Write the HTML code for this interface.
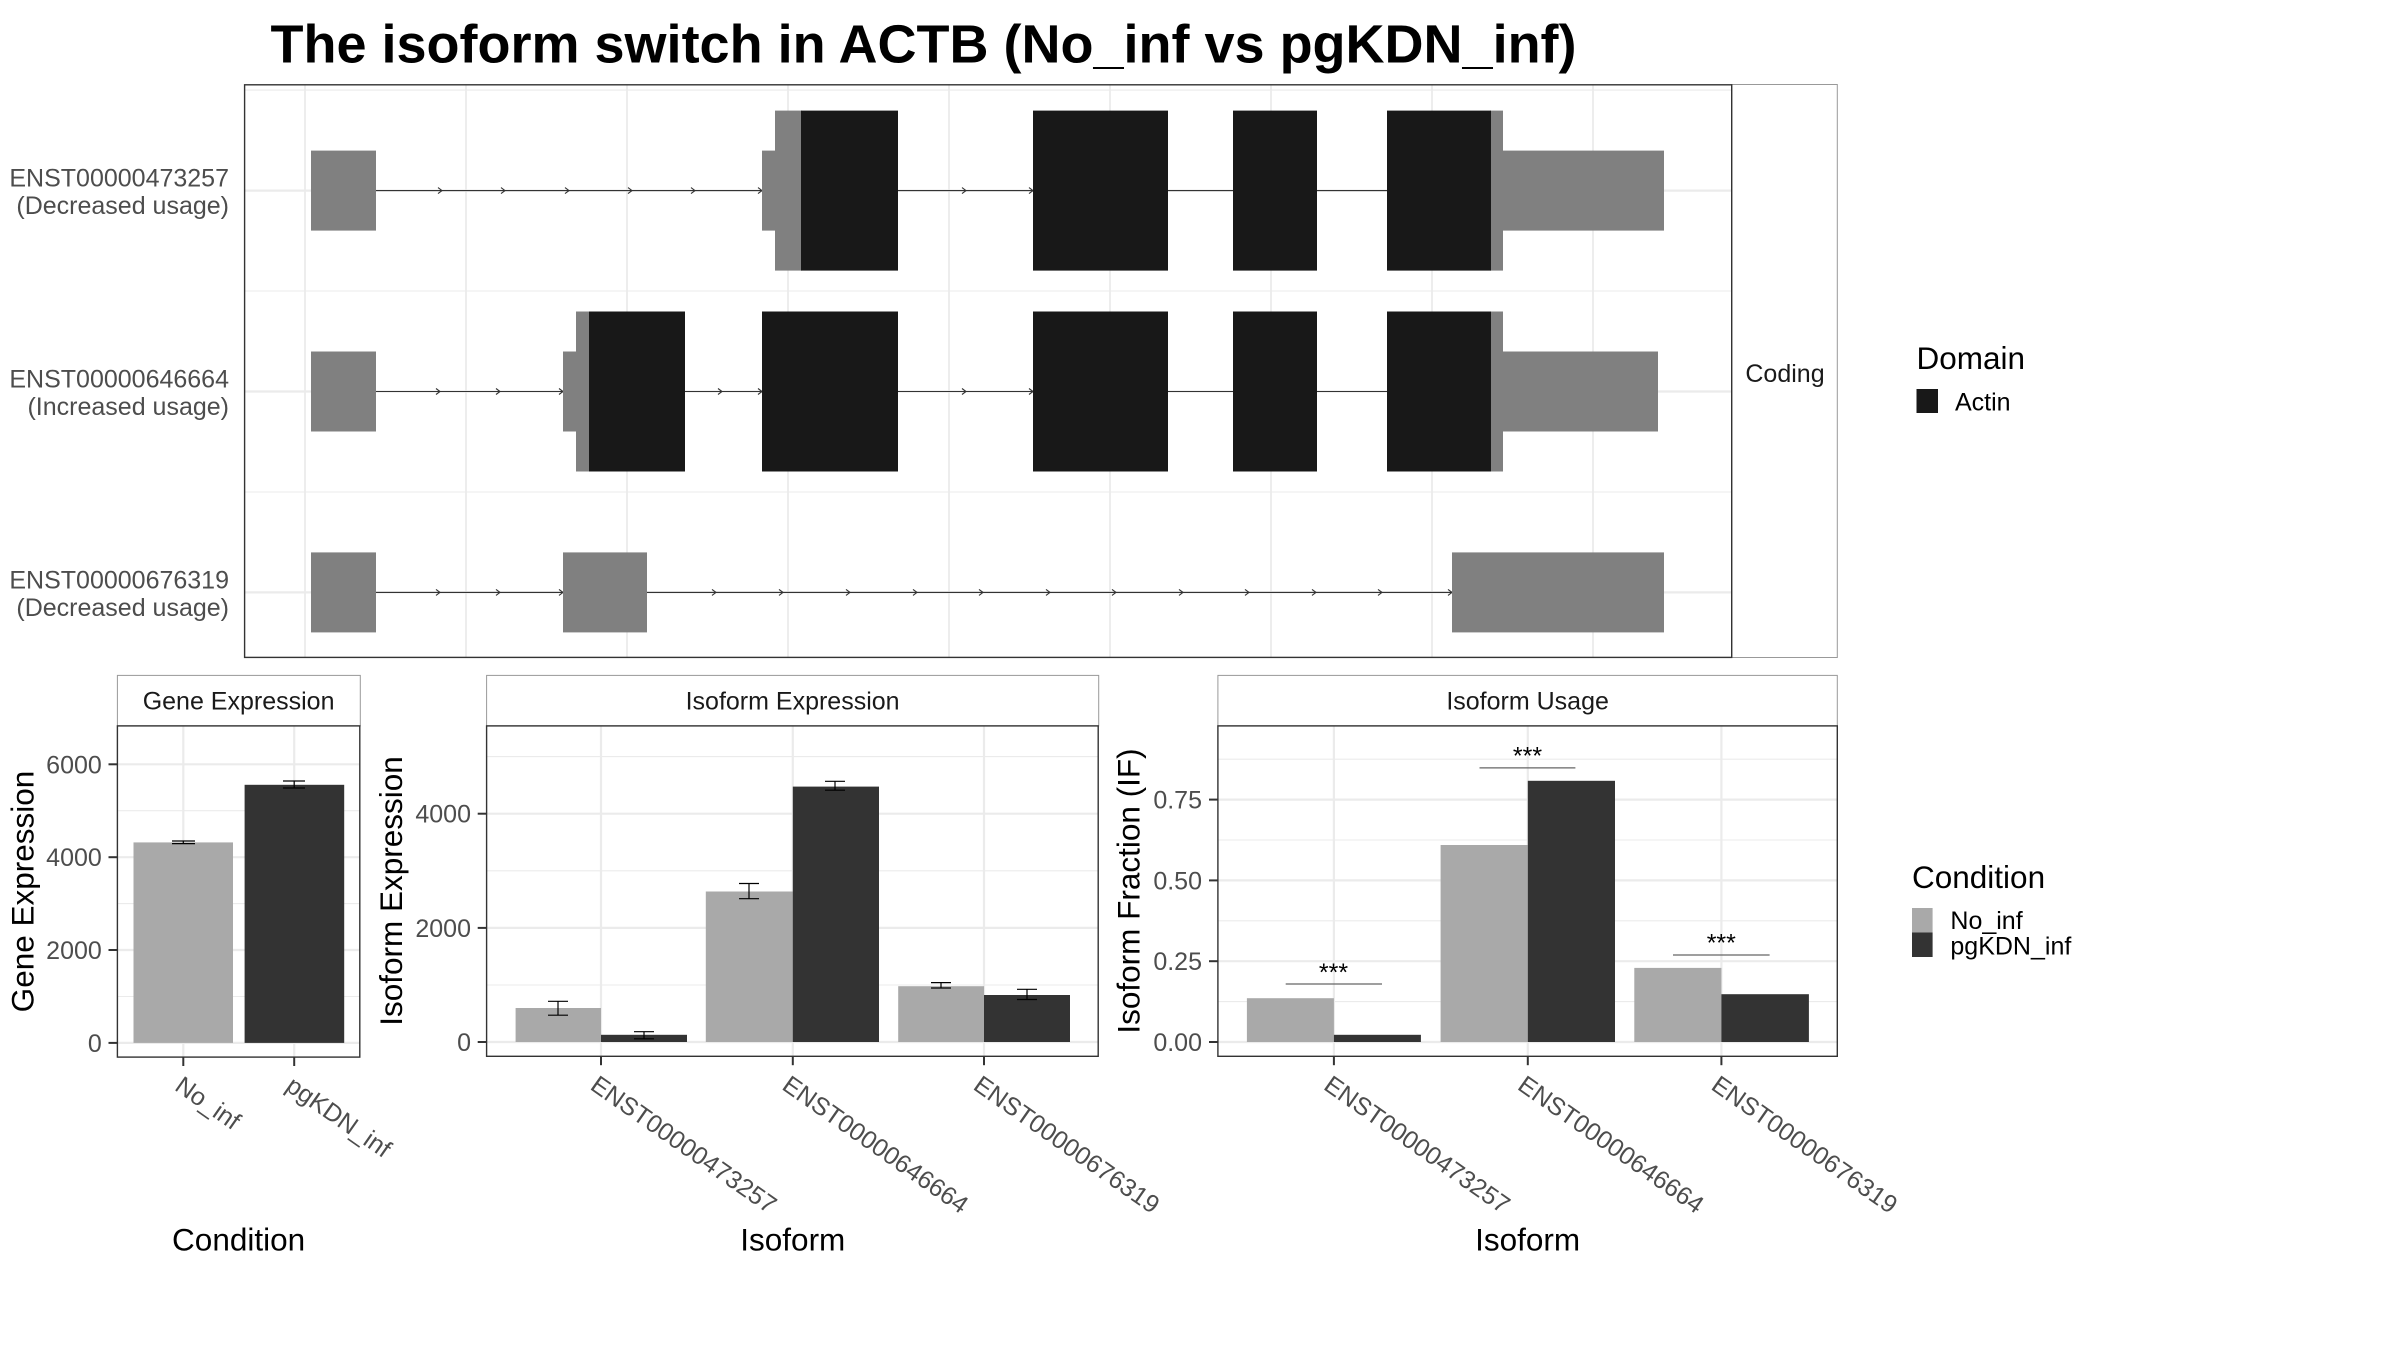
<!DOCTYPE html>
<html><head><meta charset="utf-8"><style>
html,body{margin:0;padding:0;background:#fff;}
svg{display:block;}
text{font-family:"Liberation Sans",Arial,sans-serif;}
</style></head><body>
<svg width="2400" height="1350" viewBox="0 0 2400 1350" xmlns="http://www.w3.org/2000/svg">
<rect width="2400" height="1350" fill="#fff"/>
<!-- Title -->
<text x="270.5" y="62.5" font-size="54" font-weight="bold" fill="#000">The isoform switch in ACTB (No_inf vs pgKDN_inf)</text>

<!-- ===== TOP PANEL ===== -->
<defs>
<clipPath id="ctop"><rect x="244.6" y="84.8" width="1487.1" height="572.6"/></clipPath>
</defs>
<g clip-path="url(#ctop)">
<g stroke="#ebebeb" stroke-width="1.1">
<line x1="244" y1="90.1" x2="1732" y2="90.1"/>
<line x1="244" y1="291" x2="1732" y2="291"/>
<line x1="244" y1="492" x2="1732" y2="492"/>
</g>
<g stroke="#ebebeb" stroke-width="2.2">
<line x1="244" y1="190.6" x2="1732" y2="190.6"/>
<line x1="244" y1="391.5" x2="1732" y2="391.5"/>
<line x1="244" y1="592.4" x2="1732" y2="592.4"/>
</g>
<g stroke="#ebebeb" stroke-width="1.8">
<line x1="305" y1="84" x2="305" y2="658"/>
<line x1="466" y1="84" x2="466" y2="658"/>
<line x1="627" y1="84" x2="627" y2="658"/>
<line x1="788" y1="84" x2="788" y2="658"/>
<line x1="949" y1="84" x2="949" y2="658"/>
<line x1="1110" y1="84" x2="1110" y2="658"/>
<line x1="1271" y1="84" x2="1271" y2="658"/>
<line x1="1432" y1="84" x2="1432" y2="658"/>
<line x1="1593" y1="84" x2="1593" y2="658"/>
</g>
</g>
<!-- intron lines -->
<g stroke="#333" stroke-width="1.1">
<line x1="376" y1="190.6" x2="1503" y2="190.6"/>
<line x1="376" y1="391.5" x2="1503" y2="391.5"/>
<line x1="376" y1="592.4" x2="1452" y2="592.4"/>
</g>
<!-- arrows -->
<g stroke="#333" stroke-width="1.1" fill="none">
<g transform="translate(0,190.6)">
<polyline points="438,-3 442,0 438,3"/><polyline points="501,-3 505,0 501,3"/><polyline points="565,-3 569,0 565,3"/><polyline points="628,-3 632,0 628,3"/><polyline points="691,-3 695,0 691,3"/><polyline points="758,-3 762,0 758,3"/><polyline points="962,-3 966,0 962,3"/><polyline points="1029,-3 1033,0 1029,3"/>
</g>
<g transform="translate(0,391.5)">
<polyline points="436,-3 440,0 436,3"/><polyline points="496,-3 500,0 496,3"/><polyline points="559,-3 563,0 559,3"/><polyline points="718,-3 722,0 718,3"/><polyline points="758,-3 762,0 758,3"/><polyline points="962,-3 966,0 962,3"/><polyline points="1029,-3 1033,0 1029,3"/>
</g>
<g transform="translate(0,592.4)">
<polyline points="436,-3 440,0 436,3"/><polyline points="496,-3 500,0 496,3"/><polyline points="559,-3 563,0 559,3"/>
<polyline points="712,-3 716,0 712,3"/><polyline points="779,-3 783,0 779,3"/><polyline points="846,-3 850,0 846,3"/><polyline points="913,-3 917,0 913,3"/><polyline points="979,-3 983,0 979,3"/><polyline points="1046,-3 1050,0 1046,3"/><polyline points="1112,-3 1116,0 1112,3"/><polyline points="1179,-3 1183,0 1179,3"/><polyline points="1245,-3 1249,0 1245,3"/><polyline points="1312,-3 1316,0 1312,3"/><polyline points="1378,-3 1382,0 1378,3"/><polyline points="1448,-3 1452,0 1448,3"/>
</g>
</g>
<!-- exons row 1 -->
<g fill="#808080">
<rect x="311" y="150.6" width="65" height="80"/>
<rect x="762" y="150.6" width="14" height="80"/>
<rect x="775" y="110.6" width="27" height="160"/>
<rect x="1490" y="110.6" width="13" height="160"/>
<rect x="1502" y="150.6" width="162" height="80"/>
</g>
<g fill="#181818">
<rect x="801" y="110.6" width="97" height="160"/>
<rect x="1033" y="110.6" width="135" height="160"/>
<rect x="1233" y="110.6" width="84" height="160"/>
<rect x="1387" y="110.6" width="104" height="160"/>
</g>
<!-- exons row 2 -->
<g fill="#808080">
<rect x="311" y="351.5" width="65" height="80"/>
<rect x="563" y="351.5" width="14" height="80"/>
<rect x="576" y="311.5" width="14" height="160"/>
<rect x="1490" y="311.5" width="13" height="160"/>
<rect x="1502" y="351.5" width="156" height="80"/>
</g>
<g fill="#181818">
<rect x="589" y="311.5" width="96" height="160"/>
<rect x="762" y="311.5" width="136" height="160"/>
<rect x="1033" y="311.5" width="135" height="160"/>
<rect x="1233" y="311.5" width="84" height="160"/>
<rect x="1387" y="311.5" width="104" height="160"/>
</g>
<!-- exons row 3 -->
<g fill="#808080">
<rect x="311" y="552.4" width="65" height="80"/>
<rect x="563" y="552.4" width="84" height="80"/>
<rect x="1452" y="552.4" width="212" height="80"/>
</g>
<!-- strip -->
<rect x="1731.7" y="84.5" width="105.6" height="573" fill="#fff" stroke="#999" stroke-width="1"/>
<rect x="244.6" y="84.8" width="1487.1" height="572.6" fill="none" stroke="#333" stroke-width="1.4"/>
<text x="1785" y="382" font-size="25" fill="#1a1a1a" text-anchor="middle">Coding</text>
<!-- y labels -->
<g font-size="25" fill="#4d4d4d" text-anchor="end">
<text x="229" y="186.6">ENST00000473257</text>
<text x="229" y="214.1">(Decreased usage)</text>
<text x="229" y="387.5">ENST00000646664</text>
<text x="229" y="415">(Increased usage)</text>
<text x="229" y="588.4">ENST00000676319</text>
<text x="229" y="615.9">(Decreased usage)</text>
</g>
<!-- Domain legend -->
<text x="1916.5" y="369" font-size="31.5" fill="#000">Domain</text>
<rect x="1916.5" y="389" width="21.5" height="24" fill="#181818"/>
<text x="1955" y="410.7" font-size="25" fill="#000">Actin</text>

<!-- ===== PANEL A: Gene Expression ===== -->
<rect x="117.4" y="675.4" width="242.9" height="50.5" fill="#fff" stroke="#999" stroke-width="1"/>
<text x="238.6" y="709.4" font-size="25" fill="#1a1a1a" text-anchor="middle">Gene Expression</text>
<g stroke="#ebebeb">
<g stroke-width="1.1">
<line x1="117" y1="996.5" x2="360" y2="996.5"/>
<line x1="117" y1="903.6" x2="360" y2="903.6"/>
<line x1="117" y1="810.7" x2="360" y2="810.7"/>
</g>
<g stroke-width="2.2">
<line x1="117" y1="1042.9" x2="360" y2="1042.9"/>
<line x1="117" y1="950" x2="360" y2="950"/>
<line x1="117" y1="857.2" x2="360" y2="857.2"/>
<line x1="117" y1="764.3" x2="360" y2="764.3"/>
<line x1="183.3" y1="726" x2="183.3" y2="1057"/>
<line x1="294.2" y1="726" x2="294.2" y2="1057"/>
</g>
</g>
<rect x="133.5" y="842.4" width="99.5" height="200.5" fill="#a9a9a9"/>
<rect x="244.6" y="784.8" width="99.6" height="258.1" fill="#333"/>
<g stroke="#000" stroke-width="1.2" fill="none">
<path d="M172,841 H195 M183.3,841 V843.6 M172,843.6 H195"/>
<path d="M283,781 H305 M294.2,781 V788 M283,788 H305"/>
</g>
<rect x="117.4" y="725.9" width="242.4" height="331.2" fill="none" stroke="#333" stroke-width="1.4"/>
<g stroke="#333" stroke-width="2">
<line x1="108.5" y1="1042.9" x2="117.4" y2="1042.9"/>
<line x1="108.5" y1="950" x2="117.4" y2="950"/>
<line x1="108.5" y1="857.2" x2="117.4" y2="857.2"/>
<line x1="108.5" y1="764.3" x2="117.4" y2="764.3"/>
<line x1="183.3" y1="1057.1" x2="183.3" y2="1066"/>
<line x1="294.2" y1="1057.1" x2="294.2" y2="1066"/>
</g>
<g font-size="25" fill="#4d4d4d" text-anchor="end">
<text x="101.8" y="1051.9">0</text>
<text x="101.8" y="959">2000</text>
<text x="101.8" y="866.2">4000</text>
<text x="101.8" y="773.3">6000</text>
</g>
<g font-size="25" fill="#4d4d4d">
<text transform="translate(173.5,1089.3) rotate(35)">No_inf</text>
<text transform="translate(284.4,1089.3) rotate(35)">pgKDN_inf</text>
</g>
<text transform="translate(33.5,891.5) rotate(-90)" font-size="31.5" fill="#000" text-anchor="middle">Gene Expression</text>
<text x="238.6" y="1250.4" font-size="31.5" fill="#000" text-anchor="middle">Condition</text>

<!-- ===== PANEL B: Isoform Expression ===== -->
<rect x="486.6" y="675.4" width="612.1" height="50.5" fill="#fff" stroke="#999" stroke-width="1"/>
<text x="792.6" y="709.4" font-size="25" fill="#1a1a1a" text-anchor="middle">Isoform Expression</text>
<g stroke="#ebebeb">
<g stroke-width="1.1">
<line x1="486" y1="985" x2="1098" y2="985"/>
<line x1="486" y1="870.8" x2="1098" y2="870.8"/>
<line x1="486" y1="756.6" x2="1098" y2="756.6"/>
</g>
<g stroke-width="2.2">
<line x1="486" y1="1042" x2="1098" y2="1042"/>
<line x1="486" y1="927.9" x2="1098" y2="927.9"/>
<line x1="486" y1="813.7" x2="1098" y2="813.7"/>
<line x1="601" y1="726" x2="601" y2="1056"/>
<line x1="792.8" y1="726" x2="792.8" y2="1056"/>
<line x1="984" y1="726" x2="984" y2="1056"/>
</g>
</g>
<g fill="#a9a9a9">
<rect x="515.6" y="1008" width="85.4" height="34"/>
<rect x="705.8" y="891.5" width="87.1" height="150.5"/>
<rect x="898.2" y="986.2" width="85.8" height="55.8"/>
</g>
<g fill="#333">
<rect x="601" y="1034.8" width="86" height="7.2"/>
<rect x="792.8" y="786.6" width="86.2" height="255.4"/>
<rect x="984" y="995" width="86" height="47"/>
</g>
<g stroke="#000" stroke-width="1.2" fill="none">
<path d="M548,1001.3 H568 M558,1001.3 V1015.2 M548,1015.2 H568"/>
<path d="M634,1031.7 H654 M644,1031.7 V1038.8 M634,1038.8 H654"/>
<path d="M739,883.5 H759 M749,883.5 V898.7 M739,898.7 H759"/>
<path d="M825,781.3 H845 M835,781.3 V790.2 M825,790.2 H845"/>
<path d="M931,982.6 H951 M941,982.6 V988 M931,988 H951"/>
<path d="M1017,989.3 H1037 M1027,989.3 V999.5 M1017,999.5 H1037"/>
</g>
<rect x="486.6" y="725.9" width="611.6" height="330.4" fill="none" stroke="#333" stroke-width="1.4"/>
<g stroke="#333" stroke-width="2">
<line x1="477.7" y1="1042" x2="486.6" y2="1042"/>
<line x1="477.7" y1="927.9" x2="486.6" y2="927.9"/>
<line x1="477.7" y1="813.7" x2="486.6" y2="813.7"/>
<line x1="601" y1="1056.3" x2="601" y2="1065.2"/>
<line x1="792.8" y1="1056.3" x2="792.8" y2="1065.2"/>
<line x1="984" y1="1056.3" x2="984" y2="1065.2"/>
</g>
<g font-size="25" fill="#4d4d4d" text-anchor="end">
<text x="471" y="1051">0</text>
<text x="471" y="936.9">2000</text>
<text x="471" y="822.7">4000</text>
</g>
<g font-size="25" fill="#4d4d4d">
<text transform="translate(589,1088.5) rotate(35)">ENST00000473257</text>
<text transform="translate(780.8,1088.5) rotate(35)">ENST00000646664</text>
<text transform="translate(972,1088.5) rotate(35)">ENST00000676319</text>
</g>
<text transform="translate(401.8,891) rotate(-90)" font-size="31.5" fill="#000" text-anchor="middle">Isoform Expression</text>
<text x="792.8" y="1250.4" font-size="31.5" fill="#000" text-anchor="middle">Isoform</text>

<!-- ===== PANEL C: Isoform Usage ===== -->
<rect x="1217.9" y="675.4" width="619.4" height="50.5" fill="#fff" stroke="#999" stroke-width="1"/>
<text x="1527.6" y="709.4" font-size="25" fill="#1a1a1a" text-anchor="middle">Isoform Usage</text>
<g stroke="#ebebeb">
<g stroke-width="1.1">
<line x1="1218" y1="1001.6" x2="1837" y2="1001.6"/>
<line x1="1218" y1="920.8" x2="1837" y2="920.8"/>
<line x1="1218" y1="840" x2="1837" y2="840"/>
<line x1="1218" y1="759.2" x2="1837" y2="759.2"/>
</g>
<g stroke-width="2.2">
<line x1="1218" y1="1042" x2="1837" y2="1042"/>
<line x1="1218" y1="961.2" x2="1837" y2="961.2"/>
<line x1="1218" y1="880.4" x2="1837" y2="880.4"/>
<line x1="1218" y1="799.6" x2="1837" y2="799.6"/>
<line x1="1333.9" y1="726" x2="1333.9" y2="1056"/>
<line x1="1527.8" y1="726" x2="1527.8" y2="1056"/>
<line x1="1721.4" y1="726" x2="1721.4" y2="1056"/>
</g>
</g>
<g fill="#a9a9a9">
<rect x="1246.9" y="998.2" width="87" height="43.8"/>
<rect x="1440.6" y="845" width="87.2" height="197"/>
<rect x="1634.3" y="967.9" width="87.1" height="74.1"/>
</g>
<g fill="#333">
<rect x="1333.9" y="1034.8" width="87" height="7.2"/>
<rect x="1527.8" y="780.8" width="87.2" height="261.2"/>
<rect x="1721.4" y="994.2" width="87.5" height="47.8"/>
</g>
<g stroke="#666" stroke-width="1.2">
<line x1="1285.7" y1="984" x2="1382" y2="984"/>
<line x1="1479.5" y1="767.9" x2="1575.4" y2="767.9"/>
<line x1="1673" y1="955" x2="1769.6" y2="955"/>
</g>
<g font-size="25" fill="#000" text-anchor="middle">
<text x="1333.5" y="981">***</text>
<text x="1527.5" y="764.6">***</text>
<text x="1721.3" y="951.6">***</text>
</g>
<rect x="1217.9" y="725.9" width="619.4" height="330.4" fill="none" stroke="#333" stroke-width="1.4"/>
<g stroke="#333" stroke-width="2">
<line x1="1209" y1="1042" x2="1217.9" y2="1042"/>
<line x1="1209" y1="961.2" x2="1217.9" y2="961.2"/>
<line x1="1209" y1="880.4" x2="1217.9" y2="880.4"/>
<line x1="1209" y1="799.6" x2="1217.9" y2="799.6"/>
<line x1="1333.9" y1="1056.3" x2="1333.9" y2="1065.2"/>
<line x1="1527.8" y1="1056.3" x2="1527.8" y2="1065.2"/>
<line x1="1721.4" y1="1056.3" x2="1721.4" y2="1065.2"/>
</g>
<g font-size="25" fill="#4d4d4d" text-anchor="end">
<text x="1202" y="1051">0.00</text>
<text x="1202" y="970.2">0.25</text>
<text x="1202" y="889.4">0.50</text>
<text x="1202" y="808.6">0.75</text>
</g>
<g font-size="25" fill="#4d4d4d">
<text transform="translate(1322.4,1088.5) rotate(35)">ENST00000473257</text>
<text transform="translate(1516.3,1088.5) rotate(35)">ENST00000646664</text>
<text transform="translate(1709.9,1088.5) rotate(35)">ENST00000676319</text>
</g>
<text transform="translate(1139.7,891) rotate(-90)" font-size="31.5" fill="#000" text-anchor="middle">Isoform Fraction (IF)</text>
<text x="1527.6" y="1250.4" font-size="31.5" fill="#000" text-anchor="middle">Isoform</text>

<!-- Condition legend -->
<text x="1912" y="888" font-size="31.5" fill="#000">Condition</text>
<rect x="1912" y="908" width="20.6" height="24.5" fill="#a9a9a9"/>
<rect x="1912" y="932.5" width="20.6" height="24.5" fill="#333"/>
<text x="1950.4" y="929" font-size="25" fill="#000">No_inf</text>
<text x="1950.4" y="954.5" font-size="25" fill="#000">pgKDN_inf</text>
</svg>
</body></html>
